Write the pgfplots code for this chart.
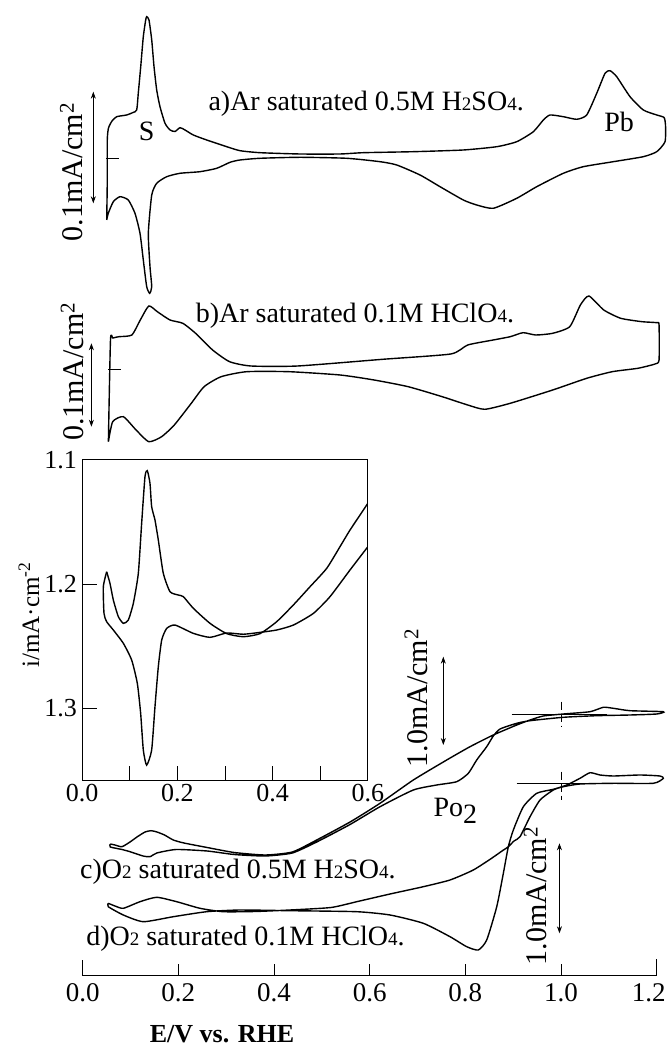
\documentclass[border=0pt]{standalone}
\usepackage{fontspec}
\setmainfont{Liberation Serif}
\usepackage{pgfplots}
\pgfplotsset{compat=1.18}
\usetikzlibrary{arrows.meta}

% small digits that sit on the baseline, as in the scan
\newcommand\sub[1]{{\fontsize{19}{19}\selectfont #1}}

\pgfplotsset{
  cv/.style={black, no marks, line width=1.4pt, smooth, tension=0.35},
}

\begin{document}
\begin{tikzpicture}[
  lab/.style={font=\fontsize{28}{32}\selectfont, inner sep=0pt},
  slab/.style={font=\fontsize{30}{34}\selectfont, inner sep=0pt, rotate=90},
  scl/.style={{Stealth[length=7pt,width=5pt]}-{Stealth[length=7pt,width=5pt]}, line width=0.7pt},
]
\useasboundingbox (-82.7pt,-73.3pt) rectangle (584.3pt,975.7pt);

% main axis: E/V vs. RHE, curves stacked with vertical offsets
\begin{axis}[
  name=main, at={(0,0)}, anchor=south west,
  scale only axis, width=574pt, height=975.7pt,
  xmin=0, xmax=1.2, ymin=73.3, ymax=1049,
  axis x line*=bottom, axis y line=none,
  clip=false,
  xtick={0,0.2,0.4,0.6,0.8,1.0},
  extra x ticks={1.2},
  extra x tick style={xticklabel style={xshift=-8pt}},
  tick align=inside, major tick length=12pt,
  axis line style={line width=1pt},
  every tick/.style={line width=1pt, black},
  xticklabel style={font=\fontsize{27}{30}\selectfont, inner sep=0pt, yshift=-8pt,
    /pgf/number format/fixed, /pgf/number format/fixed zerofill,
    /pgf/number format/precision=1, /pgf/number format/assume math mode=true},
]
% a) Ar saturated 0.5M H2SO4
\addplot[cv] coordinates {
(0.0502,829) (0.0514,869) (0.0514,909) (0.0539,921) (0.0613,928) (0.0711,932.3)
(0.0920,934) (0.1052,936.5) (0.1129,939) (0.1162,955.7) (0.1213,982.3) (0.1267,1012.3)
(0.1317,1029) (0.1338,1032.3) (0.1386,1029) (0.1443,1009) (0.1491,982.3) (0.1547,959)
(0.1616,942.3) (0.1721,925.7) (0.1826,919) (0.1930,917.5) (0.2034,921.3) (0.2139,919)
(0.2312,914) (0.2592,909) (0.3011,902.3) (0.3289,898.3) (0.3707,896.3) (0.4543,895)
(0.5379,895) (0.5866,896.3) (0.6912,897.3) (0.7957,899) (0.8656,902.3) (0.9074,907.3)
(0.9421,917.3) (0.9630,929) (0.9770,934) (1.0048,932.3) (1.0328,929.7) (1.0537,934)
(1.0746,955.7) (1.0920,975.7) (1.1024,978.3) (1.1164,972.3) (1.1442,952.3) (1.1720,939)
(1.2001,934) (1.2153,931.5) (1.2184,924) (1.2174,907.3) (1.2001,897.3) (1.1720,892.3)
(1.1093,887.3) (1.0466,882.3) (1.0048,875.7) (0.9492,862.3) (0.9074,850.7) (0.8584,840.7)
(0.8237,844) (0.7957,849) (0.7470,862.3) (0.7052,874) (0.6565,884) (0.6216,887.3)
(0.5520,890.7) (0.4543,891.7) (0.3707,890.7) (0.3289,889) (0.3080,886.7) (0.2802,880.7)
(0.2452,877.3) (0.2034,875.7) (0.1756,872.3) (0.1547,865.7) (0.1443,854) (0.1372,815.7)
(0.1407,782.3) (0.1443,762.3) (0.1401,755.7) (0.1338,762.3) (0.1267,789) (0.1198,815.7)
(0.1093,835.7) (0.0953,849) (0.0780,852.3) (0.0640,847.3) (0.0535,835.7) (0.0502,829)
};
% b) Ar saturated 0.1M HClO4
\addplot[cv] coordinates {
(0.0537,607.3) (0.0581,709) (0.0633,711) (0.0759,712.3) (0.1027,714) (0.1204,729)
(0.1382,743) (0.1560,737.3) (0.1825,729) (0.2093,725.7) (0.2360,715.7) (0.2716,699)
(0.3071,687.3) (0.3517,683) (0.4493,683) (0.6272,689.7) (0.7694,695) (0.8049,704)
(0.8582,709) (0.8938,712.3) (0.9206,716.3) (0.9471,714) (0.9826,715.7) (1.0182,722.3)
(1.0405,744) (1.0583,753) (1.0893,739) (1.1248,730.7) (1.1693,727.3) (1.2005,726.3)
(1.2049,724) (1.2049,689) (1.1965,685) (1.1606,680.7) (1.1070,677.3) (1.0537,670.7)
(0.9826,659) (0.8938,645.7) (0.8405,639.7) (0.8049,644) (0.7516,652.3) (0.6805,662.3)
(0.6092,669) (0.5381,674) (0.4315,677.3) (0.3427,677.3) (0.2894,672.3) (0.2538,662.3)
(0.2270,645.7) (0.1915,624) (0.1650,612.3) (0.1382,607.3) (0.1116,619) (0.0849,632.3)
(0.0627,627.3) (0.0537,607.3)
};
% c) O2 saturated 0.5M H2SO4
\addplot[cv] coordinates {
(0.0577,205) (0.0675,204) (0.0820,202.3) (0.0989,207) (0.1144,212.3) (0.1303,217)
(0.1428,218.3) (0.1553,217) (0.1710,214) (0.1894,209) (0.2116,206) (0.2601,201.5)
(0.3167,196.5) (0.3816,194) (0.4382,197) (0.4892,209) (0.5589,227) (0.6216,245.7)
(0.6912,269) (0.7610,289) (0.8097,302.3) (0.8584,314) (0.9074,324) (0.9352,329)
(0.9630,333) (1.0048,335) (1.0606,337.3) (1.0884,341.7) (1.1093,340.7) (1.1442,338.3)
(1.2139,337.3) (1.2001,335) (1.1442,334) (1.0746,333.3) (1.0048,331.7) (0.9352,328.3)
(0.9074,325.7) (0.8725,320) (0.8584,313) (0.8446,302.3) (0.8237,289) (0.8062,275.7)
(0.7819,267.3) (0.7401,264) (0.6912,259) (0.6216,242.3) (0.5589,224.5) (0.4892,207)
(0.4382,196) (0.3816,193) (0.3167,194.5) (0.2601,198) (0.1953,199.5) (0.1549,196)
(0.1407,192.3) (0.1261,193) (0.0989,197.3) (0.0820,199.5) (0.0577,202) (0.0577,205)
};
% d) O2 saturated 0.1M HClO4
\addplot[cv] coordinates {
(0.0535,145.7) (0.0675,143) (0.0849,140.7) (0.1198,147.3) (0.1547,151.7) (0.1965,147.3)
(0.2452,140.7) (0.2940,137.3) (0.3602,137.5) (0.4334,139) (0.5191,141.5) (0.5729,147.3)
(0.6425,155) (0.7121,162.3) (0.7679,169) (0.8166,179) (0.8557,191) (0.8766,198)
(0.8898,202.3) (0.9017,208) (0.9143,212.3) (0.9352,232.3) (0.9561,249) (0.9839,259)
(1.0048,262.3) (1.0397,265) (1.1093,265.7) (1.1930,265.7) (1.2139,270.7) (1.2066,273)
(1.1648,274) (1.1093,273) (1.0815,274) (1.0606,276.3) (1.0397,270.7) (1.0119,264)
(0.9839,259.7) (0.9492,255.7) (0.9212,242.3) (0.9003,219) (0.8898,202.3) (0.8794,175.7)
(0.8656,142.3) (0.8446,109) (0.8271,99) (0.8028,102.3) (0.7679,112.3) (0.7121,125.7)
(0.6425,134) (0.5729,137.3) (0.4334,138.3) (0.3289,139) (0.2592,137.3) (0.1894,132.3)
(0.1267,127.3) (0.0849,134) (0.0535,142.3) (0.0535,145.7)
};

% zero-current marks and scale bars
\draw[line width=1pt] (axis cs:0.0487,890.7) -- (axis cs:0.0765,890.7);
\draw[line width=1pt] (axis cs:0.0537,679) -- (axis cs:0.0805,679);
\draw[scl] (axis cs:0.0222,957.3) -- (axis cs:0.0222,845.7);
\draw[scl] (axis cs:0.0182,705.7) -- (axis cs:0.0182,622.3);
\draw[scl] (axis cs:0.7539,392.3) -- (axis cs:0.7539,304);
\draw[scl] (axis cs:0.9967,205.7) -- (axis cs:0.9967,115.7);
\draw[line width=0.8pt] (axis cs:0.8969,335) -- (axis cs:1.0955,335);
\draw[line width=0.8pt, dash pattern=on 8pt off 4pt] (axis cs:1.0,347.3) -- (axis cs:1.0,322.3);
\draw[line width=0.8pt] (axis cs:0.9074,265.7) -- (axis cs:1.0815,265.7);
\draw[line width=0.8pt, dash pattern=on 8pt off 4pt] (axis cs:1.0,277.3) -- (axis cs:1.0,249);
% longer end ticks of the E axis
\draw[line width=1pt] (axis cs:0,73.3) -- (axis cs:0,89);
\draw[line width=1pt] (axis cs:1.2,73.3) -- (axis cs:1.2,90);

% labels
\node[lab, anchor=base west] at (axis cs:0.2626,938) {a)Ar saturated 0.5M H\sub{2}SO\sub{4}.};
\node[lab] at (axis cs:0.1338,917.3) {S};
\node[lab] at (axis cs:1.1213,927) {Pb};
\node[lab, anchor=base west] at (axis cs:0.2360,726) {b)Ar saturated 0.1M HClO\sub{4}.};
\node[lab, anchor=west] at (axis cs:0.7330,238) {Po\raisebox{-7pt}{2}};
\node[lab, anchor=base west] at (axis cs:-0.0056,170.5) {c)O\sub{2} saturated 0.5M H\sub{2}SO\sub{4}.};
\node[lab, anchor=base west] at (axis cs:0.0071,104) {d)O\sub{2} saturated 0.1M HClO\sub{4}.};
\node[slab] at (axis cs:-0.0230,877) {0.1mA/cm\textsuperscript{2}};
\node[slab] at (axis cs:-0.0217,677.3) {0.1mA/cm\textsuperscript{2}};
\node[slab] at (axis cs:0.6969,351) {1.0mA/cm\textsuperscript{2}};
\node[slab] at (axis cs:0.9463,153) {1.0mA/cm\textsuperscript{2}};
\node[font=\fontsize{26}{28}\selectfont\bfseries, inner sep=0pt] at (axis cs:0.2914,15) {E/V vs. RHE};
\node[font=\fontsize{25}{28}\selectfont, inner sep=0pt, rotate=90] at (axis cs:-0.1123,434)
  {i/mA\textperiodcentered cm\textsuperscript{-2}};
\end{axis}

% inset: first cycle detail, 0.0-0.6 V
\begin{axis}[
  at={(-0.5pt,195pt)}, anchor=south west,
  scale only axis, width=285.6pt, height=320.7pt,
  xmin=0, xmax=0.6, ymin=1.1, ymax=1.3586, y dir=reverse,
  xtick={0,0.1,0.2,0.3,0.4,0.5,0.6}, xticklabels={0.0,,0.2,,0.4,,0.6},
  ytick={1.1,1.2,1.3}, yticklabels={1.1,1.2,1.3},
  xtick pos=bottom, ytick pos=left,
  tick align=inside, major tick length=15pt,
  axis line style={line width=1pt},
  every tick/.style={line width=1pt, black},
  xticklabel style={font=\fontsize{26}{28}\selectfont, inner sep=0pt, yshift=-3pt},
  yticklabel style={font=\fontsize{26}{28}\selectfont, inner sep=0pt, xshift=-5pt},
]
\addplot[cv] coordinates {
(0.0514,1.1901) (0.0584,1.1995) (0.0654,1.2129) (0.0759,1.2263) (0.0864,1.2317)
(0.0969,1.2290) (0.1074,1.2156) (0.1179,1.1914) (0.1249,1.1511) (0.1319,1.1134)
(0.1368,1.1086) (0.1424,1.1188) (0.1459,1.1376) (0.1529,1.1484) (0.1599,1.1645)
(0.1704,1.1914) (0.1845,1.2062) (0.2020,1.2089) (0.2125,1.2102) (0.2335,1.2196)
(0.2685,1.2317) (0.3035,1.2400) (0.3385,1.2425) (0.3735,1.2400) (0.4085,1.2304)
(0.4436,1.2169) (0.4786,1.2022) (0.5136,1.1874) (0.5416,1.1699) (0.5626,1.1565)
(0.6000,1.1350)
};
\addplot[cv] coordinates {
(0.6000,1.1700) (0.5626,1.1887) (0.5206,1.2102) (0.4856,1.2237) (0.4436,1.2331)
(0.4085,1.2371) (0.3735,1.2390) (0.3385,1.2405) (0.3035,1.2395) (0.2685,1.2430)
(0.2335,1.2398) (0.1950,1.2331) (0.1775,1.2358) (0.1670,1.2452) (0.1599,1.2667)
(0.1529,1.2989) (0.1459,1.3339) (0.1354,1.3460) (0.1284,1.3339) (0.1228,1.3043)
(0.1158,1.2801) (0.1039,1.2613) (0.0864,1.2478) (0.0654,1.2371) (0.0514,1.2304)
(0.0458,1.2237) (0.0444,1.2022) (0.0514,1.1901)
};
\end{axis}
\end{tikzpicture}
\end{document}
